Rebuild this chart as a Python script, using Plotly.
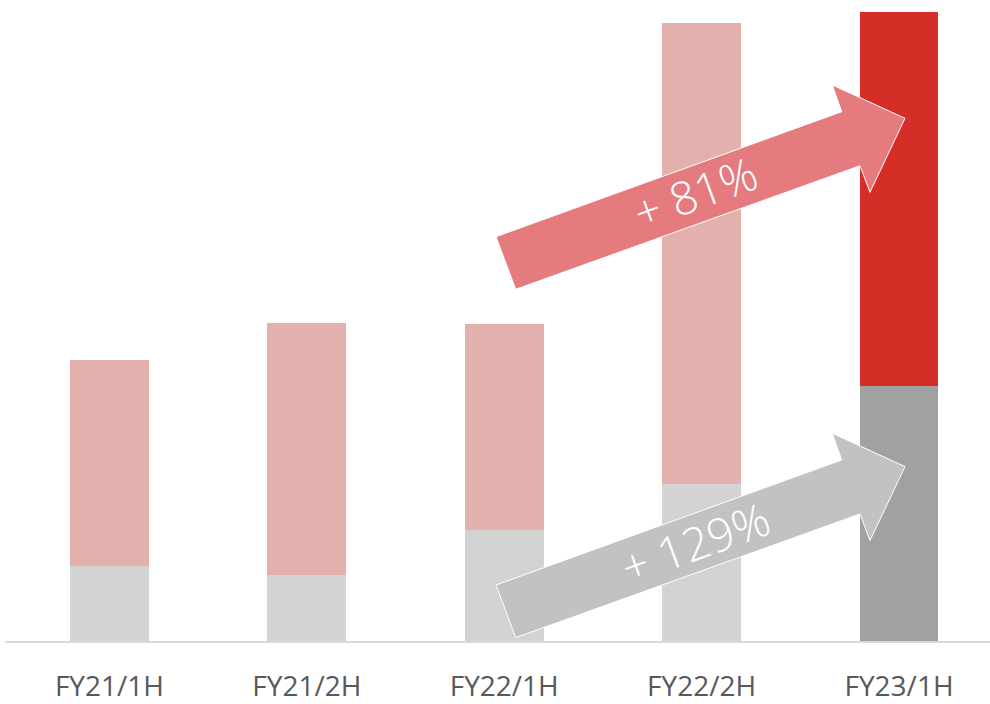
import plotly.graph_objects as go

# ---- data (arbitrary units) ----
categories = ["FY21/1H", "FY21/2H", "FY22/1H", "FY22/2H", "FY23/1H"]
base_values = [75, 66, 111, 157, 255]      # lower (grey) segment
top_values = [206, 252, 206, 461, 374]     # upper (red) segment
growth_labels = ["+ 81%", "+ 129%"]

base_colors = ["#d3d3d3"] * 4 + ["#a0a1a0"]
top_colors = ["#e2b1ae"] * 4 + ["#d42e26"]

W, H = 990, 704
ML, MR, MT, MB = 5, 0, 10, 63
PW, PH = W - ML - MR, H - MT - MB

x_idx = list(range(len(categories)))

fig = go.Figure()
fig.add_trace(go.Bar(x=x_idx, y=base_values, marker=dict(color=base_colors, line=dict(width=0)),
                     width=0.4, hoverinfo="skip"))
fig.add_trace(go.Bar(x=x_idx, y=top_values, marker=dict(color=top_colors, line=dict(width=0)),
                     width=0.4, hoverinfo="skip"))


def to_paper(px, py):
    return (px - ML) / PW, (H - MB - py) / PH


def arrow_path(dy, pts):
    out = []
    for i, (px, py) in enumerate(pts):
        xp, yp = to_paper(px, py + dy)
        out.append(("M" if i == 0 else "L") + f"{xp:.5f},{yp:.5f}")
    return " ".join(out) + " Z"


arrow_pts = [(496, 236.7), (841.7, 111.7), (832.3, 85), (905, 118.3),
             (870, 192.3), (860, 165.7), (515.7, 289.3)]

shapes = [
    dict(type="path", xref="paper", yref="paper", path=arrow_path(0, arrow_pts),
         fillcolor="#e57a7f", line=dict(color="white", width=1), layer="above"),
    dict(type="path", xref="paper", yref="paper", path=arrow_path(348.3, arrow_pts),
         fillcolor="#c2c2c2", line=dict(color="white", width=1), layer="above"),
]

ann = []
for (label, (cx, cy)) in zip(growth_labels, [(695, 192), (695, 542)]):
    xp, yp = to_paper(cx, cy)
    ann.append(dict(x=xp, y=yp, xref="paper", yref="paper", text=label, showarrow=False,
                    textangle=-20, font=dict(family="Open Sans", size=46, color="white", weight=300),
                    xanchor="center", yanchor="middle"))

fig.update_layout(
    width=W, height=H, margin=dict(l=ML, r=MR, t=MT, b=MB, autoexpand=False),
    barmode="stack", showlegend=False,
    plot_bgcolor="white", paper_bgcolor="white",
    shapes=shapes, annotations=ann,
    xaxis=dict(range=[-0.529, 4.461], tickvals=x_idx, ticktext=categories,
               showline=True, linecolor="#d9d9d9", linewidth=2, showgrid=False,
               zeroline=False, ticks="", ticklabelstandoff=19, automargin=False,
               tickfont=dict(family="Open Sans", size=28, color="#595959"), fixedrange=True),
    yaxis=dict(range=[0, PH], visible=False, showgrid=False, zeroline=False, fixedrange=True,
               automargin=False),
)

fig.write_html("out.html", config={"displayModeBar": False},
               post_script="document.body.style.margin='0';document.body.style.overflow='hidden';")
